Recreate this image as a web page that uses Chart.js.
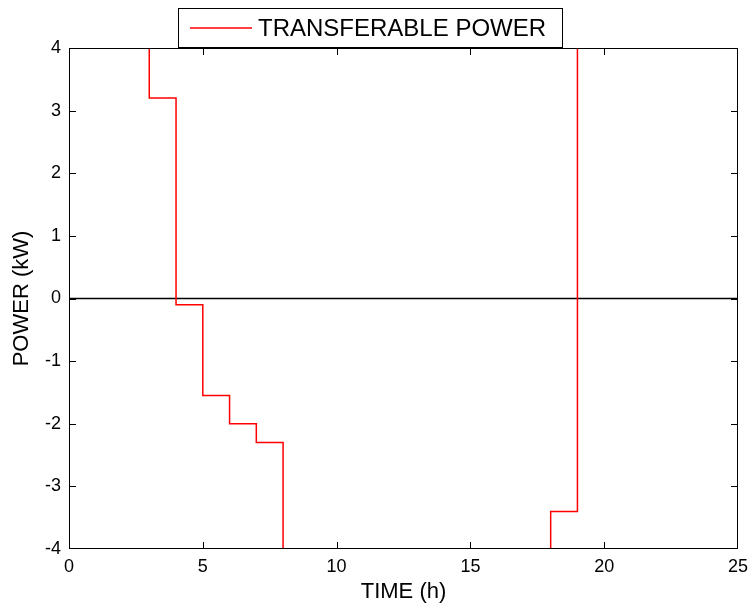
<!DOCTYPE html>
<html>
<head>
<meta charset="utf-8">
<script src="https://cdn.jsdelivr.net/npm/chart.js@4.4.1/dist/chart.umd.min.js"></script>
<style>
  body { margin: 0; background: #fff; }
  canvas { display: block; }
</style>
</head>
<body>
<canvas id="powerChart" width="748" height="610"></canvas>
<script>
// step points (hours, kW); values beyond +-4 are off the plotted range
const hours = [0, 3, 4, 5, 6, 7, 8, 18, 19, 25];
const power = [5, 3.2, -0.1, -1.55, -2, -2.3, -5, -3.4, 5, 5];
const xTicks = [0, 5, 10, 15, 20, 25];
const yTicks = [-4, -3, -2, -1, 0, 1, 2, 3, 4];
const seriesLabel = 'TRANSFERABLE POWER';

const FONT = "'Liberation Sans', Arial, sans-serif";

// box, inward ticks and the legend, matlab style
const axesBox = {
  id: 'axesBox',
  afterDraw(chart) {
    const { ctx, chartArea: a, scales } = chart;
    ctx.save();
    ctx.strokeStyle = '#000';
    ctx.lineWidth = 1;
    ctx.strokeRect(a.left + 0.5, a.top + 0.5, a.right - a.left - 1, a.bottom - a.top - 1);

    const len = 7;
    ctx.beginPath();
    xTicks.slice(1, -1).forEach(v => {
      const x = Math.round(scales.x.getPixelForValue(v)) + 0.5;
      ctx.moveTo(x, a.bottom); ctx.lineTo(x, a.bottom - len);
      ctx.moveTo(x, a.top); ctx.lineTo(x, a.top + len);
    });
    yTicks.slice(1, -1).forEach(v => {
      const y = Math.round(scales.y.getPixelForValue(v)) + 0.5;
      ctx.moveTo(a.left, y); ctx.lineTo(a.left + len, y);
      ctx.moveTo(a.right, y); ctx.lineTo(a.right - len, y);
    });
    ctx.stroke();

    // legend
    const lx = 178, ly = 8, lw = 384, lh = 39;
    ctx.fillStyle = '#fff';
    ctx.fillRect(lx, ly, lw, lh);
    ctx.strokeRect(lx + 0.5, ly + 0.5, lw, lh);
    ctx.strokeStyle = '#ff0000';
    ctx.lineWidth = 1.5;
    ctx.beginPath();
    ctx.moveTo(190, 28); ctx.lineTo(252, 28);
    ctx.stroke();
    ctx.fillStyle = '#000';
    ctx.font = '24px ' + FONT;
    ctx.textBaseline = 'middle';
    ctx.fillText(seriesLabel, 258, 29);
    ctx.restore();
  }
};

new Chart(document.getElementById('powerChart'), {
  type: 'line',
  data: {
    datasets: [
      {
        label: seriesLabel,
        data: hours.map((h, i) => ({ x: h, y: power[i] })),
        stepped: true,
        borderColor: '#ff0000',
        borderWidth: 1.5,
        pointRadius: 0,
        fill: false
      },
      {
        label: 'zero',
        data: [{ x: xTicks[0], y: 0 }, { x: xTicks[xTicks.length - 1], y: 0 }],
        borderColor: '#000',
        borderWidth: 1.5,
        pointRadius: 0
      }
    ]
  },
  options: {
    responsive: false,
    animation: false,
    layout: { padding: { left: 0, top: 48, right: 0, bottom: 0 } },
    plugins: {
      legend: { display: false },
      tooltip: { enabled: false }
    },
    scales: {
      x: {
        type: 'linear',
        min: 0,
        max: 25,
        afterBuildTicks: s => { s.ticks = xTicks.map(v => ({ value: v })); },
        afterFit: s => { s.height = 61; s.paddingLeft = 0; s.paddingRight = 10; },
        grid: { display: false, drawTicks: false },
        border: { display: false },
        ticks: { color: '#000', padding: 7, maxRotation: 0, font: { family: FONT, size: 18 } },
        title: {
          display: true,
          text: 'TIME (h)',
          color: '#000',
          padding: { top: 0, bottom: 5 },
          font: { family: FONT, size: 22 }
        }
      },
      y: {
        min: -4,
        max: 4,
        afterBuildTicks: s => { s.ticks = yTicks.map(v => ({ value: v })); },
        afterFit: s => { s.width = 69; s.paddingTop = 0; s.paddingBottom = 0; },
        grid: { display: false, drawTicks: false },
        border: { display: false },
        ticks: { color: '#000', padding: 8, font: { family: FONT, size: 18 } },
        title: {
          display: true,
          text: 'POWER (kW)',
          color: '#000',
          padding: { top: 9, bottom: 0 },
          font: { family: FONT, size: 22 }
        }
      }
    }
  },
  plugins: [axesBox]
});
</script>
</body>
</html>
